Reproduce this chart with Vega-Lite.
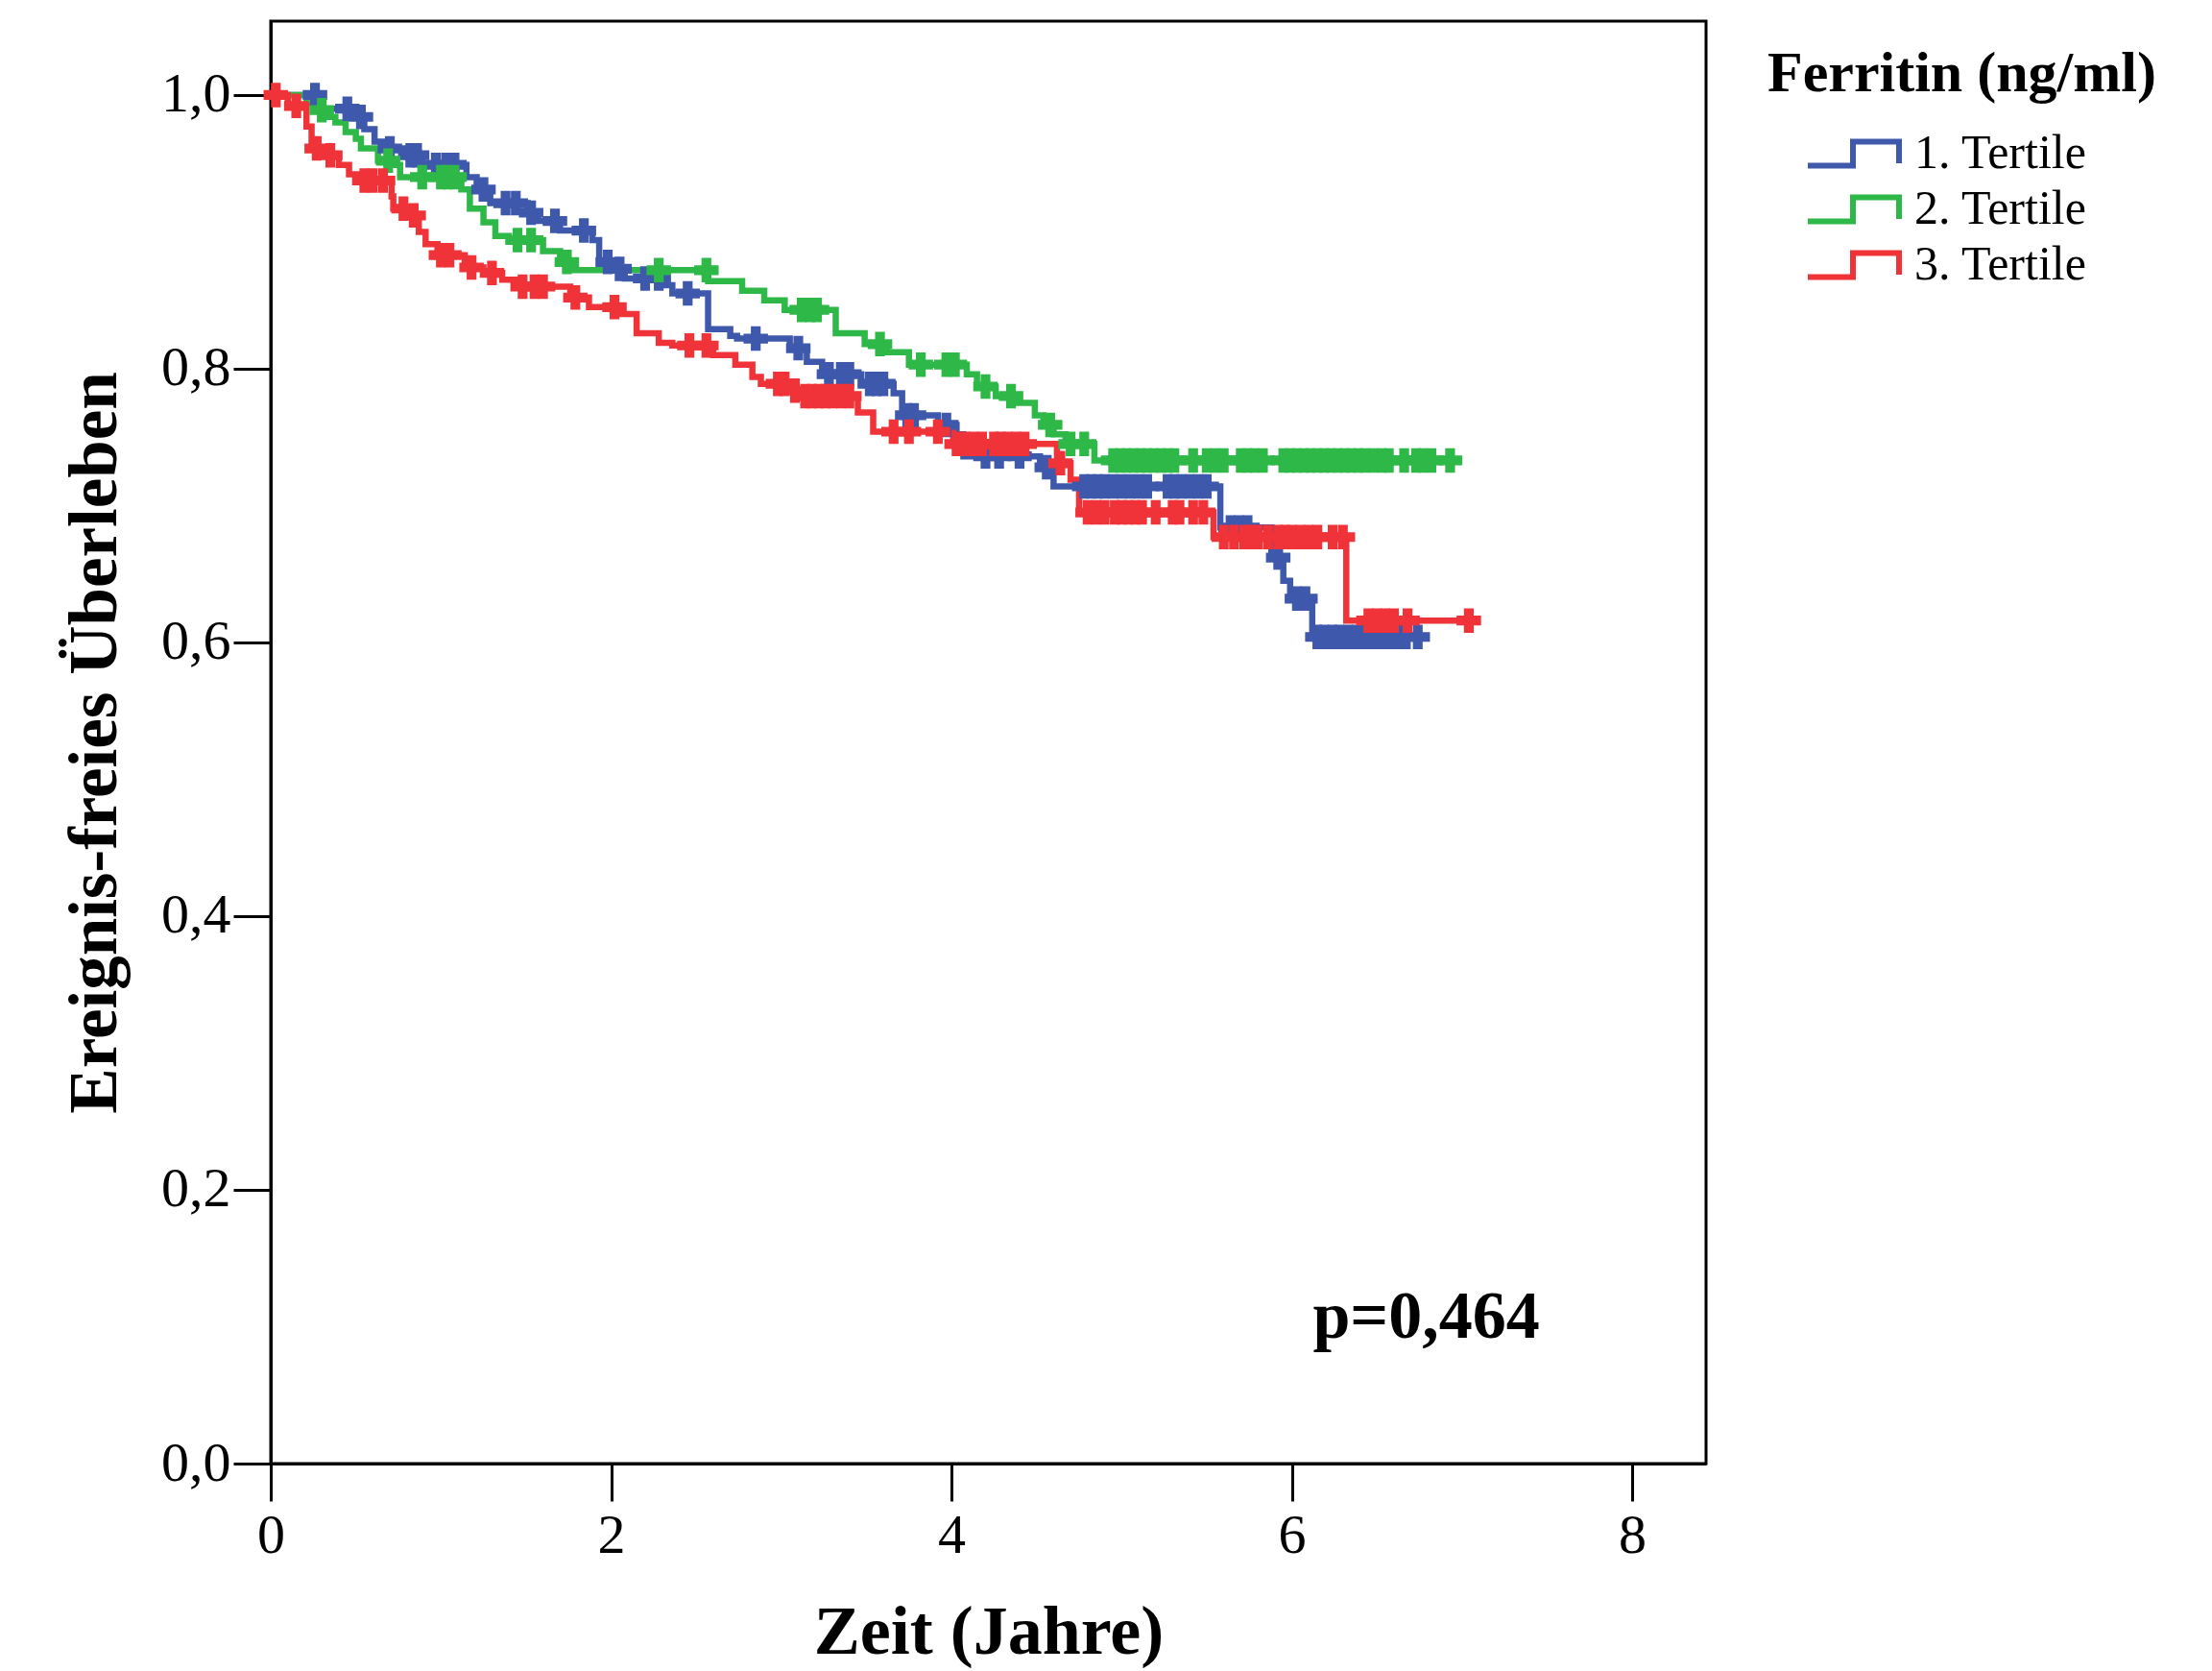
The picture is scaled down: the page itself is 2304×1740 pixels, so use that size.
{
  "$schema": "https://vega.github.io/schema/vega-lite/v6.json",
  "width": 1495,
  "height": 1502,
  "autosize": {"type": "none"},
  "padding": {"left": 282, "top": 22, "right": 527, "bottom": 216},
  "background": "white",
  "config": {
    "view": {"stroke": "black", "strokeWidth": 3},
    "axis": {
      "grid": false,
      "domainColor": "black",
      "domainWidth": 3,
      "tickColor": "black",
      "tickWidth": 3,
      "tickSize": 39,
      "labelFont": "Liberation Serif",
      "labelFontSize": 58,
      "labelColor": "black",
      "labelFlush": false,
      "titleFont": "Liberation Serif",
      "titleFontWeight": "bold",
      "titleColor": "black"
    },
    "legend": {
      "titleFont": "Liberation Serif",
      "labelFont": "Liberation Serif"
    }
  },
  "datasets": {
    "steps": [
      {"g": "1. Tertile", "t": 0, "s": 1.0},
      {"g": "1. Tertile", "t": 0.28, "s": 0.990},
      {"g": "1. Tertile", "t": 0.50, "s": 0.984},
      {"g": "1. Tertile", "t": 0.55, "s": 0.975},
      {"g": "1. Tertile", "t": 0.61, "s": 0.966},
      {"g": "1. Tertile", "t": 0.66, "s": 0.961},
      {"g": "1. Tertile", "t": 0.78, "s": 0.956},
      {"g": "1. Tertile", "t": 0.89, "s": 0.949},
      {"g": "1. Tertile", "t": 1.15, "s": 0.940},
      {"g": "1. Tertile", "t": 1.21, "s": 0.931},
      {"g": "1. Tertile", "t": 1.29, "s": 0.921},
      {"g": "1. Tertile", "t": 1.51, "s": 0.914},
      {"g": "1. Tertile", "t": 1.57, "s": 0.908},
      {"g": "1. Tertile", "t": 1.70, "s": 0.901},
      {"g": "1. Tertile", "t": 1.89, "s": 0.894},
      {"g": "1. Tertile", "t": 1.93, "s": 0.878},
      {"g": "1. Tertile", "t": 2.04, "s": 0.873},
      {"g": "1. Tertile", "t": 2.08, "s": 0.866},
      {"g": "1. Tertile", "t": 2.32, "s": 0.861},
      {"g": "1. Tertile", "t": 2.36, "s": 0.855},
      {"g": "1. Tertile", "t": 2.57, "s": 0.829},
      {"g": "1. Tertile", "t": 2.70, "s": 0.824},
      {"g": "1. Tertile", "t": 2.74, "s": 0.822},
      {"g": "1. Tertile", "t": 3.05, "s": 0.815},
      {"g": "1. Tertile", "t": 3.15, "s": 0.805},
      {"g": "1. Tertile", "t": 3.24, "s": 0.796},
      {"g": "1. Tertile", "t": 3.47, "s": 0.789},
      {"g": "1. Tertile", "t": 3.66, "s": 0.782},
      {"g": "1. Tertile", "t": 3.71, "s": 0.766},
      {"g": "1. Tertile", "t": 3.92, "s": 0.759},
      {"g": "1. Tertile", "t": 4.03, "s": 0.752},
      {"g": "1. Tertile", "t": 4.07, "s": 0.736},
      {"g": "1. Tertile", "t": 4.52, "s": 0.728},
      {"g": "1. Tertile", "t": 4.60, "s": 0.714},
      {"g": "1. Tertile", "t": 5.58, "s": 0.684},
      {"g": "1. Tertile", "t": 5.88, "s": 0.662},
      {"g": "1. Tertile", "t": 5.95, "s": 0.645},
      {"g": "1. Tertile", "t": 5.99, "s": 0.632},
      {"g": "1. Tertile", "t": 6.12, "s": 0.604},
      {"g": "1. Tertile", "t": 6.75, "s": 0.604},
      {"g": "2. Tertile", "t": 0, "s": 1.0},
      {"g": "2. Tertile", "t": 0.21, "s": 0.994},
      {"g": "2. Tertile", "t": 0.27, "s": 0.989},
      {"g": "2. Tertile", "t": 0.33, "s": 0.984},
      {"g": "2. Tertile", "t": 0.38, "s": 0.980},
      {"g": "2. Tertile", "t": 0.44, "s": 0.973},
      {"g": "2. Tertile", "t": 0.50, "s": 0.968},
      {"g": "2. Tertile", "t": 0.53, "s": 0.961},
      {"g": "2. Tertile", "t": 0.63, "s": 0.952},
      {"g": "2. Tertile", "t": 0.70, "s": 0.949},
      {"g": "2. Tertile", "t": 0.76, "s": 0.940},
      {"g": "2. Tertile", "t": 1.12, "s": 0.931},
      {"g": "2. Tertile", "t": 1.17, "s": 0.917},
      {"g": "2. Tertile", "t": 1.25, "s": 0.907},
      {"g": "2. Tertile", "t": 1.32, "s": 0.897},
      {"g": "2. Tertile", "t": 1.40, "s": 0.894},
      {"g": "2. Tertile", "t": 1.60, "s": 0.886},
      {"g": "2. Tertile", "t": 1.70, "s": 0.878},
      {"g": "2. Tertile", "t": 1.76, "s": 0.872},
      {"g": "2. Tertile", "t": 2.57, "s": 0.864},
      {"g": "2. Tertile", "t": 2.77, "s": 0.857},
      {"g": "2. Tertile", "t": 2.90, "s": 0.850},
      {"g": "2. Tertile", "t": 3.02, "s": 0.843},
      {"g": "2. Tertile", "t": 3.32, "s": 0.826},
      {"g": "2. Tertile", "t": 3.49, "s": 0.818},
      {"g": "2. Tertile", "t": 3.62, "s": 0.812},
      {"g": "2. Tertile", "t": 3.75, "s": 0.803},
      {"g": "2. Tertile", "t": 4.09, "s": 0.796},
      {"g": "2. Tertile", "t": 4.15, "s": 0.787},
      {"g": "2. Tertile", "t": 4.26, "s": 0.780},
      {"g": "2. Tertile", "t": 4.37, "s": 0.775},
      {"g": "2. Tertile", "t": 4.49, "s": 0.766},
      {"g": "2. Tertile", "t": 4.54, "s": 0.759},
      {"g": "2. Tertile", "t": 4.60, "s": 0.752},
      {"g": "2. Tertile", "t": 4.67, "s": 0.745},
      {"g": "2. Tertile", "t": 4.84, "s": 0.733},
      {"g": "2. Tertile", "t": 6.93, "s": 0.733},
      {"g": "3. Tertile", "t": 0, "s": 1.0},
      {"g": "3. Tertile", "t": 0.10, "s": 0.992},
      {"g": "3. Tertile", "t": 0.21, "s": 0.977},
      {"g": "3. Tertile", "t": 0.24, "s": 0.961},
      {"g": "3. Tertile", "t": 0.31, "s": 0.956},
      {"g": "3. Tertile", "t": 0.40, "s": 0.949},
      {"g": "3. Tertile", "t": 0.46, "s": 0.942},
      {"g": "3. Tertile", "t": 0.52, "s": 0.9375},
      {"g": "3. Tertile", "t": 0.71, "s": 0.926},
      {"g": "3. Tertile", "t": 0.72, "s": 0.917},
      {"g": "3. Tertile", "t": 0.82, "s": 0.912},
      {"g": "3. Tertile", "t": 0.87, "s": 0.900},
      {"g": "3. Tertile", "t": 0.91, "s": 0.891},
      {"g": "3. Tertile", "t": 0.98, "s": 0.883},
      {"g": "3. Tertile", "t": 1.14, "s": 0.874},
      {"g": "3. Tertile", "t": 1.25, "s": 0.870},
      {"g": "3. Tertile", "t": 1.36, "s": 0.865},
      {"g": "3. Tertile", "t": 1.44, "s": 0.860},
      {"g": "3. Tertile", "t": 1.76, "s": 0.852},
      {"g": "3. Tertile", "t": 1.87, "s": 0.845},
      {"g": "3. Tertile", "t": 2.06, "s": 0.840},
      {"g": "3. Tertile", "t": 2.15, "s": 0.826},
      {"g": "3. Tertile", "t": 2.28, "s": 0.819},
      {"g": "3. Tertile", "t": 2.36, "s": 0.817},
      {"g": "3. Tertile", "t": 2.60, "s": 0.810},
      {"g": "3. Tertile", "t": 2.73, "s": 0.803},
      {"g": "3. Tertile", "t": 2.83, "s": 0.794},
      {"g": "3. Tertile", "t": 2.88, "s": 0.789},
      {"g": "3. Tertile", "t": 3.05, "s": 0.784},
      {"g": "3. Tertile", "t": 3.12, "s": 0.780},
      {"g": "3. Tertile", "t": 3.45, "s": 0.768},
      {"g": "3. Tertile", "t": 3.54, "s": 0.754},
      {"g": "3. Tertile", "t": 4.01, "s": 0.745},
      {"g": "3. Tertile", "t": 4.62, "s": 0.731},
      {"g": "3. Tertile", "t": 4.70, "s": 0.719},
      {"g": "3. Tertile", "t": 4.75, "s": 0.695},
      {"g": "3. Tertile", "t": 5.54, "s": 0.677},
      {"g": "3. Tertile", "t": 6.32, "s": 0.616},
      {"g": "3. Tertile", "t": 7.04, "s": 0.616}
    ],
    "cens": [
      {"g": "1. Tertile", "t": 0.26, "s": 1.0},
      {"g": "1. Tertile", "t": 0.45, "s": 0.990},
      {"g": "1. Tertile", "t": 0.53, "s": 0.984},
      {"g": "1. Tertile", "t": 0.70, "s": 0.961},
      {"g": "1. Tertile", "t": 0.82, "s": 0.956},
      {"g": "1. Tertile", "t": 0.86, "s": 0.956},
      {"g": "1. Tertile", "t": 0.97, "s": 0.949},
      {"g": "1. Tertile", "t": 1.03, "s": 0.949},
      {"g": "1. Tertile", "t": 1.08, "s": 0.949},
      {"g": "1. Tertile", "t": 1.25, "s": 0.931},
      {"g": "1. Tertile", "t": 1.38, "s": 0.921},
      {"g": "1. Tertile", "t": 1.44, "s": 0.921},
      {"g": "1. Tertile", "t": 1.53, "s": 0.914},
      {"g": "1. Tertile", "t": 1.67, "s": 0.908},
      {"g": "1. Tertile", "t": 1.84, "s": 0.901},
      {"g": "1. Tertile", "t": 1.98, "s": 0.878},
      {"g": "1. Tertile", "t": 2.05, "s": 0.873},
      {"g": "1. Tertile", "t": 2.20, "s": 0.866},
      {"g": "1. Tertile", "t": 2.28, "s": 0.866},
      {"g": "1. Tertile", "t": 2.45, "s": 0.855},
      {"g": "1. Tertile", "t": 2.85, "s": 0.822},
      {"g": "1. Tertile", "t": 3.10, "s": 0.815},
      {"g": "1. Tertile", "t": 3.28, "s": 0.796},
      {"g": "1. Tertile", "t": 3.35, "s": 0.796},
      {"g": "1. Tertile", "t": 3.40, "s": 0.796},
      {"g": "1. Tertile", "t": 3.52, "s": 0.789},
      {"g": "1. Tertile", "t": 3.56, "s": 0.789},
      {"g": "1. Tertile", "t": 3.60, "s": 0.789},
      {"g": "1. Tertile", "t": 3.74, "s": 0.766},
      {"g": "1. Tertile", "t": 3.78, "s": 0.766},
      {"g": "1. Tertile", "t": 3.97, "s": 0.759},
      {"g": "1. Tertile", "t": 4.20, "s": 0.736},
      {"g": "1. Tertile", "t": 4.28, "s": 0.736},
      {"g": "1. Tertile", "t": 4.40, "s": 0.736},
      {"g": "1. Tertile", "t": 4.56, "s": 0.728},
      {"g": "1. Tertile", "t": 4.78, "s": 0.714},
      {"g": "1. Tertile", "t": 4.82, "s": 0.714},
      {"g": "1. Tertile", "t": 4.86, "s": 0.714},
      {"g": "1. Tertile", "t": 4.90, "s": 0.714},
      {"g": "1. Tertile", "t": 4.95, "s": 0.714},
      {"g": "1. Tertile", "t": 5.00, "s": 0.714},
      {"g": "1. Tertile", "t": 5.05, "s": 0.714},
      {"g": "1. Tertile", "t": 5.10, "s": 0.714},
      {"g": "1. Tertile", "t": 5.15, "s": 0.714},
      {"g": "1. Tertile", "t": 5.27, "s": 0.714},
      {"g": "1. Tertile", "t": 5.31, "s": 0.714},
      {"g": "1. Tertile", "t": 5.35, "s": 0.714},
      {"g": "1. Tertile", "t": 5.40, "s": 0.714},
      {"g": "1. Tertile", "t": 5.45, "s": 0.714},
      {"g": "1. Tertile", "t": 5.50, "s": 0.714},
      {"g": "1. Tertile", "t": 5.64, "s": 0.684},
      {"g": "1. Tertile", "t": 5.69, "s": 0.684},
      {"g": "1. Tertile", "t": 5.74, "s": 0.684},
      {"g": "1. Tertile", "t": 5.92, "s": 0.662},
      {"g": "1. Tertile", "t": 6.03, "s": 0.632},
      {"g": "1. Tertile", "t": 6.08, "s": 0.632},
      {"g": "1. Tertile", "t": 6.15, "s": 0.604},
      {"g": "1. Tertile", "t": 6.19, "s": 0.604},
      {"g": "1. Tertile", "t": 6.24, "s": 0.604},
      {"g": "1. Tertile", "t": 6.28, "s": 0.604},
      {"g": "1. Tertile", "t": 6.33, "s": 0.604},
      {"g": "1. Tertile", "t": 6.38, "s": 0.604},
      {"g": "1. Tertile", "t": 6.43, "s": 0.604},
      {"g": "1. Tertile", "t": 6.47, "s": 0.604},
      {"g": "1. Tertile", "t": 6.52, "s": 0.604},
      {"g": "1. Tertile", "t": 6.57, "s": 0.604},
      {"g": "1. Tertile", "t": 6.62, "s": 0.604},
      {"g": "1. Tertile", "t": 6.67, "s": 0.604},
      {"g": "1. Tertile", "t": 6.74, "s": 0.604},
      {"g": "2. Tertile", "t": 0.30, "s": 0.989},
      {"g": "2. Tertile", "t": 0.69, "s": 0.952},
      {"g": "2. Tertile", "t": 0.89, "s": 0.940},
      {"g": "2. Tertile", "t": 1.00, "s": 0.940},
      {"g": "2. Tertile", "t": 1.04, "s": 0.940},
      {"g": "2. Tertile", "t": 1.08, "s": 0.940},
      {"g": "2. Tertile", "t": 1.45, "s": 0.894},
      {"g": "2. Tertile", "t": 1.53, "s": 0.894},
      {"g": "2. Tertile", "t": 1.74, "s": 0.878},
      {"g": "2. Tertile", "t": 2.28, "s": 0.872},
      {"g": "2. Tertile", "t": 2.56, "s": 0.872},
      {"g": "2. Tertile", "t": 3.12, "s": 0.843},
      {"g": "2. Tertile", "t": 3.17, "s": 0.843},
      {"g": "2. Tertile", "t": 3.21, "s": 0.843},
      {"g": "2. Tertile", "t": 3.58, "s": 0.818},
      {"g": "2. Tertile", "t": 3.82, "s": 0.803},
      {"g": "2. Tertile", "t": 3.97, "s": 0.803},
      {"g": "2. Tertile", "t": 4.02, "s": 0.803},
      {"g": "2. Tertile", "t": 4.20, "s": 0.787},
      {"g": "2. Tertile", "t": 4.35, "s": 0.780},
      {"g": "2. Tertile", "t": 4.58, "s": 0.759},
      {"g": "2. Tertile", "t": 4.70, "s": 0.745},
      {"g": "2. Tertile", "t": 4.78, "s": 0.745},
      {"g": "2. Tertile", "t": 4.95, "s": 0.733},
      {"g": "2. Tertile", "t": 4.99, "s": 0.733},
      {"g": "2. Tertile", "t": 5.03, "s": 0.733},
      {"g": "2. Tertile", "t": 5.07, "s": 0.733},
      {"g": "2. Tertile", "t": 5.11, "s": 0.733},
      {"g": "2. Tertile", "t": 5.15, "s": 0.733},
      {"g": "2. Tertile", "t": 5.19, "s": 0.733},
      {"g": "2. Tertile", "t": 5.23, "s": 0.733},
      {"g": "2. Tertile", "t": 5.27, "s": 0.733},
      {"g": "2. Tertile", "t": 5.31, "s": 0.733},
      {"g": "2. Tertile", "t": 5.42, "s": 0.733},
      {"g": "2. Tertile", "t": 5.50, "s": 0.733},
      {"g": "2. Tertile", "t": 5.55, "s": 0.733},
      {"g": "2. Tertile", "t": 5.60, "s": 0.733},
      {"g": "2. Tertile", "t": 5.70, "s": 0.733},
      {"g": "2. Tertile", "t": 5.74, "s": 0.733},
      {"g": "2. Tertile", "t": 5.78, "s": 0.733},
      {"g": "2. Tertile", "t": 5.83, "s": 0.733},
      {"g": "2. Tertile", "t": 5.95, "s": 0.733},
      {"g": "2. Tertile", "t": 5.99, "s": 0.733},
      {"g": "2. Tertile", "t": 6.03, "s": 0.733},
      {"g": "2. Tertile", "t": 6.07, "s": 0.733},
      {"g": "2. Tertile", "t": 6.11, "s": 0.733},
      {"g": "2. Tertile", "t": 6.15, "s": 0.733},
      {"g": "2. Tertile", "t": 6.19, "s": 0.733},
      {"g": "2. Tertile", "t": 6.23, "s": 0.733},
      {"g": "2. Tertile", "t": 6.27, "s": 0.733},
      {"g": "2. Tertile", "t": 6.31, "s": 0.733},
      {"g": "2. Tertile", "t": 6.35, "s": 0.733},
      {"g": "2. Tertile", "t": 6.39, "s": 0.733},
      {"g": "2. Tertile", "t": 6.43, "s": 0.733},
      {"g": "2. Tertile", "t": 6.48, "s": 0.733},
      {"g": "2. Tertile", "t": 6.53, "s": 0.733},
      {"g": "2. Tertile", "t": 6.57, "s": 0.733},
      {"g": "2. Tertile", "t": 6.66, "s": 0.733},
      {"g": "2. Tertile", "t": 6.73, "s": 0.733},
      {"g": "2. Tertile", "t": 6.77, "s": 0.733},
      {"g": "2. Tertile", "t": 6.82, "s": 0.733},
      {"g": "2. Tertile", "t": 6.93, "s": 0.733},
      {"g": "3. Tertile", "t": 0.03, "s": 1.0},
      {"g": "3. Tertile", "t": 0.15, "s": 0.992},
      {"g": "3. Tertile", "t": 0.27, "s": 0.961},
      {"g": "3. Tertile", "t": 0.35, "s": 0.956},
      {"g": "3. Tertile", "t": 0.55, "s": 0.9375},
      {"g": "3. Tertile", "t": 0.60, "s": 0.9375},
      {"g": "3. Tertile", "t": 0.66, "s": 0.9375},
      {"g": "3. Tertile", "t": 0.78, "s": 0.917},
      {"g": "3. Tertile", "t": 0.84, "s": 0.912},
      {"g": "3. Tertile", "t": 1.00, "s": 0.883},
      {"g": "3. Tertile", "t": 1.05, "s": 0.883},
      {"g": "3. Tertile", "t": 1.18, "s": 0.874},
      {"g": "3. Tertile", "t": 1.30, "s": 0.870},
      {"g": "3. Tertile", "t": 1.48, "s": 0.860},
      {"g": "3. Tertile", "t": 1.55, "s": 0.860},
      {"g": "3. Tertile", "t": 1.60, "s": 0.860},
      {"g": "3. Tertile", "t": 1.79, "s": 0.852},
      {"g": "3. Tertile", "t": 2.02, "s": 0.845},
      {"g": "3. Tertile", "t": 2.46, "s": 0.817},
      {"g": "3. Tertile", "t": 2.56, "s": 0.817},
      {"g": "3. Tertile", "t": 2.98, "s": 0.789},
      {"g": "3. Tertile", "t": 3.02, "s": 0.789},
      {"g": "3. Tertile", "t": 3.08, "s": 0.784},
      {"g": "3. Tertile", "t": 3.14, "s": 0.780},
      {"g": "3. Tertile", "t": 3.18, "s": 0.780},
      {"g": "3. Tertile", "t": 3.22, "s": 0.780},
      {"g": "3. Tertile", "t": 3.26, "s": 0.780},
      {"g": "3. Tertile", "t": 3.30, "s": 0.780},
      {"g": "3. Tertile", "t": 3.35, "s": 0.780},
      {"g": "3. Tertile", "t": 3.40, "s": 0.780},
      {"g": "3. Tertile", "t": 3.66, "s": 0.754},
      {"g": "3. Tertile", "t": 3.75, "s": 0.754},
      {"g": "3. Tertile", "t": 3.92, "s": 0.754},
      {"g": "3. Tertile", "t": 4.03, "s": 0.745},
      {"g": "3. Tertile", "t": 4.08, "s": 0.745},
      {"g": "3. Tertile", "t": 4.13, "s": 0.745},
      {"g": "3. Tertile", "t": 4.18, "s": 0.745},
      {"g": "3. Tertile", "t": 4.25, "s": 0.745},
      {"g": "3. Tertile", "t": 4.29, "s": 0.745},
      {"g": "3. Tertile", "t": 4.33, "s": 0.745},
      {"g": "3. Tertile", "t": 4.38, "s": 0.745},
      {"g": "3. Tertile", "t": 4.43, "s": 0.745},
      {"g": "3. Tertile", "t": 4.64, "s": 0.731},
      {"g": "3. Tertile", "t": 4.80, "s": 0.695},
      {"g": "3. Tertile", "t": 4.85, "s": 0.695},
      {"g": "3. Tertile", "t": 4.90, "s": 0.695},
      {"g": "3. Tertile", "t": 4.96, "s": 0.695},
      {"g": "3. Tertile", "t": 5.00, "s": 0.695},
      {"g": "3. Tertile", "t": 5.04, "s": 0.695},
      {"g": "3. Tertile", "t": 5.08, "s": 0.695},
      {"g": "3. Tertile", "t": 5.12, "s": 0.695},
      {"g": "3. Tertile", "t": 5.20, "s": 0.695},
      {"g": "3. Tertile", "t": 5.30, "s": 0.695},
      {"g": "3. Tertile", "t": 5.34, "s": 0.695},
      {"g": "3. Tertile", "t": 5.42, "s": 0.695},
      {"g": "3. Tertile", "t": 5.48, "s": 0.695},
      {"g": "3. Tertile", "t": 5.60, "s": 0.677},
      {"g": "3. Tertile", "t": 5.66, "s": 0.677},
      {"g": "3. Tertile", "t": 5.72, "s": 0.677},
      {"g": "3. Tertile", "t": 5.76, "s": 0.677},
      {"g": "3. Tertile", "t": 5.80, "s": 0.677},
      {"g": "3. Tertile", "t": 5.86, "s": 0.677},
      {"g": "3. Tertile", "t": 5.92, "s": 0.677},
      {"g": "3. Tertile", "t": 5.96, "s": 0.677},
      {"g": "3. Tertile", "t": 6.00, "s": 0.677},
      {"g": "3. Tertile", "t": 6.05, "s": 0.677},
      {"g": "3. Tertile", "t": 6.10, "s": 0.677},
      {"g": "3. Tertile", "t": 6.15, "s": 0.677},
      {"g": "3. Tertile", "t": 6.24, "s": 0.677},
      {"g": "3. Tertile", "t": 6.30, "s": 0.677},
      {"g": "3. Tertile", "t": 6.45, "s": 0.616},
      {"g": "3. Tertile", "t": 6.50, "s": 0.616},
      {"g": "3. Tertile", "t": 6.55, "s": 0.616},
      {"g": "3. Tertile", "t": 6.60, "s": 0.616},
      {"g": "3. Tertile", "t": 6.68, "s": 0.616},
      {"g": "3. Tertile", "t": 7.04, "s": 0.616}
    ]
  },
  "layer": [
    {
      "data": {"name": "steps"},
      "mark": {"type": "line", "interpolate": "step-after", "strokeWidth": 6.5},
      "encoding": {
        "x": {
          "field": "t", "type": "quantitative",
          "scale": {"domain": [0, 8.434], "nice": false, "zero": false},
          "axis": {
            "title": "Zeit (Jahre)",
            "values": [0, 2, 4, 6, 8],
            "format": "d",
            "labelPadding": 7,
            "titleFontSize": 72,
            "titlePadding": 36
          }
        },
        "y": {
          "field": "s", "type": "quantitative",
          "scale": {"domain": [0, 1.054], "nice": false},
          "axis": {
            "title": "Ereignis-freies Überleben",
            "values": [0, 0.2, 0.4, 0.6, 0.8, 1.0],
            "labelExpr": "replace(format(datum.value, '.1f'), '.', ',')",
            "labelPadding": 3,
            "titleFontSize": 71,
            "titlePadding": 32
          }
        },
        "color": {
          "field": "g", "type": "nominal",
          "scale": {
            "domain": ["1. Tertile", "2. Tertile", "3. Tertile"],
            "range": ["#3E58AC", "#2EB848", "#EF3338"]
          },
          "legend": {
            "title": "Ferritin (ng/ml)",
            "orient": "right",
            "offset": 38,
            "padding": 26,
            "titleFontSize": 60,
            "titleFontWeight": "bold",
            "titleColor": "black",
            "titlePadding": 27,
            "titleLimit": 1000,
            "labelFontSize": 50,
            "labelColor": "black",
            "labelLimit": 1000,
            "labelOffset": 66,
            "symbolType": "M-1,0.625L1.35,0.625L1.35,-0.625L3.75,-0.625L3.75,0.5",
            "symbolSize": 1600,
            "symbolStrokeWidth": 6,
            "symbolOffset": 37,
            "rowPadding": 8
          }
        }
      }
    },
    {
      "data": {"name": "cens"},
      "mark": {"type": "point", "shape": "cross", "filled": true, "size": 650, "opacity": 1, "strokeWidth": 0},
      "encoding": {
        "x": {"field": "t", "type": "quantitative"},
        "y": {"field": "s", "type": "quantitative"},
        "color": {
          "field": "g", "type": "nominal",
          "scale": {
            "domain": ["1. Tertile", "2. Tertile", "3. Tertile"],
            "range": ["#3E58AC", "#2EB848", "#EF3338"]
          },
          "legend": null
        }
      }
    },
    {
      "data": {"values": [{"t": 6.79, "s": 0.092, "label": "p=0,464"}]},
      "mark": {"type": "text", "font": "Liberation Serif", "fontWeight": "bold", "fontSize": 70, "align": "center", "baseline": "alphabetic", "color": "black"},
      "encoding": {
        "x": {"field": "t", "type": "quantitative"},
        "y": {"field": "s", "type": "quantitative"},
        "text": {"field": "label"}
      }
    }
  ],
  "resolve": {"scale": {"color": "independent"}, "legend": {"color": "independent"}}
}
